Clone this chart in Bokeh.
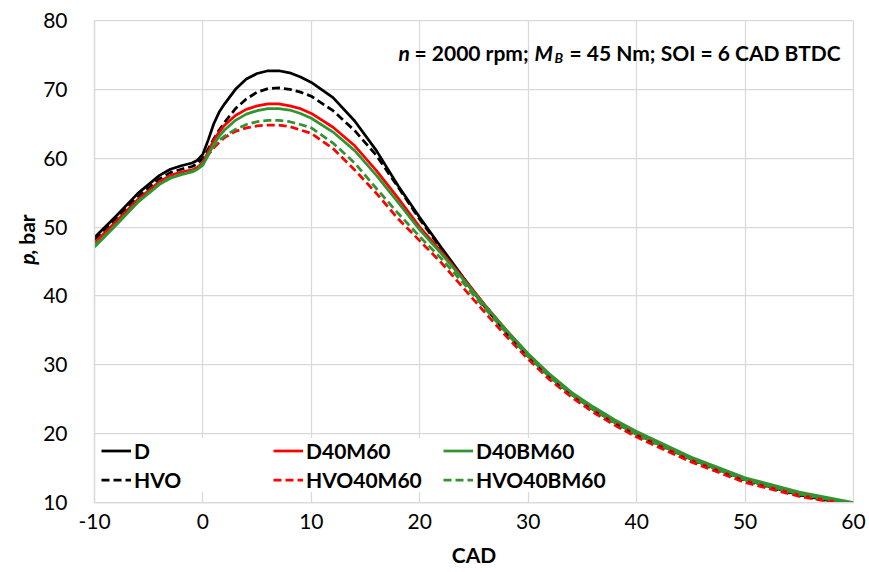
import math
from bokeh.plotting import figure
from bokeh.layouts import row
from bokeh.models import Range1d, FixedTicker, Legend, LegendItem, Label
from bokeh.embed import file_html
from bokeh.resources import INLINE

# ---------------- data ----------------
cad = [-10, -8, -6, -4, -3, -2, -1, -0.5, 0, 0.5, 1, 1.5, 2, 3, 4, 5, 6, 7, 8, 9, 10,
       12, 14, 16, 18, 20, 22, 24, 26, 28, 30, 32, 34, 36, 38, 40, 45, 50, 55, 60]

p_D = [48.5, 51.6, 54.9, 57.5, 58.4, 58.9, 59.3, 59.7, 60.6, 62.7, 65.0, 66.7, 67.9, 70.0, 71.5,
       72.3, 72.7, 72.7, 72.4, 71.8, 71.0, 68.8, 65.4, 61.1, 56.0, 51.4, 47.0, 42.7, 38.6, 34.8,
       31.3, 28.3, 25.7, 23.5, 21.6, 19.9, 16.3, 13.3, 11.1, 9.6]
p_HVO = [48.2, 51.2, 54.4, 57.0, 57.9, 58.4, 58.8, 59.2, 60.0, 61.4, 62.8, 64.1, 65.2, 67.2, 68.6,
         69.6, 70.1, 70.2, 70.0, 69.6, 69.0, 66.9, 64.0, 60.4, 55.8, 51.1, 46.8, 42.5, 38.4, 34.6,
         31.1, 28.1, 25.6, 23.4, 21.5, 19.8, 16.2, 13.2, 11.0, 9.6]
p_D40M60 = [47.7, 50.8, 54.0, 56.6, 57.5, 58.0, 58.3, 58.7, 59.4, 61.0, 62.6, 63.8, 64.8, 66.2, 67.1,
            67.6, 67.9, 67.9, 67.6, 67.2, 66.5, 64.5, 61.8, 58.2, 54.2, 50.0, 46.4, 42.6, 38.7, 35.0,
            31.5, 28.5, 25.9, 23.7, 21.8, 20.1, 16.4, 13.4, 11.3, 9.8]
p_HVO40M60 = [47.5, 50.6, 53.8, 56.4, 57.3, 57.8, 58.2, 58.6, 59.3, 60.5, 61.5, 62.3, 63.0, 63.9, 64.4,
              64.7, 64.8, 64.8, 64.6, 64.1, 63.6, 61.4, 58.3, 54.9, 51.2, 48.0, 44.8, 41.2, 37.6, 34.1,
              30.8, 27.8, 25.3, 23.1, 21.2, 19.5, 15.9, 12.9, 10.9, 9.5]
p_D40BM60 = [47.1, 50.3, 53.6, 56.2, 57.1, 57.6, 58.0, 58.4, 59.0, 60.5, 62.0, 63.2, 64.1, 65.5, 66.4,
             66.9, 67.2, 67.2, 67.0, 66.5, 65.8, 63.8, 61.1, 57.5, 53.6, 49.6, 46.1, 42.4, 38.6, 35.0,
             31.6, 28.6, 26.0, 23.9, 22.0, 20.3, 16.6, 13.6, 11.5, 10.0]
p_HVO40BM60 = [47.3, 50.4, 53.7, 56.3, 57.2, 57.7, 58.1, 58.5, 59.2, 60.6, 61.8, 62.6, 63.2, 64.2, 64.9,
               65.3, 65.5, 65.5, 65.3, 64.9, 64.4, 62.2, 59.3, 55.6, 52.0, 48.6, 45.4, 41.9, 38.2, 34.6,
               31.2, 28.2, 25.7, 23.5, 21.6, 19.9, 16.3, 13.3, 11.2, 9.8]

series_names = ["D", "HVO", "D40M60", "HVO40M60", "D40BM60", "HVO40BM60"]
x_ticks = [-10, 0, 10, 20, 30, 40, 50, 60]
x_tick_labels = ["-10", "0", "10", "20", "30", "40", "50", "60"]
y_ticks = [10, 20, 30, 40, 50, 60, 70, 80]

# ---------------- styling ----------------
FONT = "Lato"
GRID = "#d9d9d9"
BLACK = "#000000"
RED = "#ff0000"
GREEN = "#319431"
LW = 2.75
DASH = "8 4"
LEFT_W = 40

# narrow strip holding the y-axis title (p in italics)
pl = figure(width=LEFT_W, height=572, output_backend="svg", toolbar_location=None,
            x_range=Range1d(0, LEFT_W), y_range=Range1d(0, 572),
            x_axis_location=None, y_axis_location=None, min_border=0)
pl.grid.visible = False
pl.outline_line_color = None
pl.background_fill_color = "white"
pl.border_fill_color = "white"
ylab = dict(text_font=FONT, text_color=BLACK, text_font_size="21px", angle=math.pi / 2,
            text_baseline="middle", text_align="left")
pl.add_layout(Label(x=26, y=572 - 290, text="p", text_font_style="bold italic", **ylab))
pl.add_layout(Label(x=26, y=572 - 278, text=", bar", text_font_style="bold", **ylab))

p = figure(width=869 - LEFT_W, height=572, output_backend="svg", toolbar_location=None,
           x_range=Range1d(-10, 60), y_range=Range1d(10, 80),
           min_border_left=93 - LEFT_W, min_border_right=16, min_border_top=20, min_border_bottom=70)
p.background_fill_color = "white"
p.border_fill_color = "white"
p.outline_line_color = GRID
p.outline_line_width = 1.25

p.xaxis.ticker = FixedTicker(ticks=x_ticks)
p.xaxis.major_label_overrides = {t: s for t, s in zip(x_ticks, x_tick_labels)}
p.yaxis.ticker = FixedTicker(ticks=y_ticks)
for ax in (p.xaxis, p.yaxis):
    ax.axis_line_color = GRID
    ax.axis_line_width = 1.25
    ax.major_tick_line_color = None
    ax.minor_tick_line_color = None
    ax.major_label_text_font = FONT
    ax.major_label_text_font_size = "21px"
    ax.major_label_text_color = BLACK
p.xaxis.major_label_standoff = 5
p.yaxis.major_label_standoff = 21
p.xaxis.axis_label = "CAD"
p.xaxis.axis_label_text_font = FONT
p.xaxis.axis_label_text_font_size = "21px"
p.xaxis.axis_label_text_font_style = "bold"
p.xaxis.axis_label_text_color = BLACK
p.xaxis.axis_label_standoff = 10

p.grid.grid_line_color = GRID
p.grid.grid_line_width = 1.25

r_D = p.line(cad, p_D, line_color=BLACK, line_width=LW)
r_HVO = p.line(cad, p_HVO, line_color=BLACK, line_width=LW, line_dash=DASH)
r_D40M60 = p.line(cad, p_D40M60, line_color=RED, line_width=LW)
r_HVO40M60 = p.line(cad, p_HVO40M60, line_color=RED, line_width=LW, line_dash=DASH)
r_D40BM60 = p.line(cad, p_D40BM60, line_color=GREEN, line_width=LW)
r_HVO40BM60 = p.line(cad, p_HVO40BM60, line_color=GREEN, line_width=LW, line_dash=DASH)


def make_legend(items, x, lw):
    lg = Legend(items=items, location=(x, 10), orientation="vertical",
                glyph_width=30, glyph_height=25, label_height=25, label_width=lw,
                label_standoff=3, spacing=4, padding=5, margin=0,
                border_line_color=None, background_fill_color="white", background_fill_alpha=1.0,
                label_text_font=FONT, label_text_font_size="21px", label_text_font_style="bold",
                label_text_color=BLACK)
    p.add_layout(lg)


make_legend([LegendItem(label=series_names[0], renderers=[r_D]),
             LegendItem(label=series_names[1], renderers=[r_HVO])], 7, 129)
make_legend([LegendItem(label=series_names[2], renderers=[r_D40M60]),
             LegendItem(label=series_names[3], renderers=[r_HVO40M60])], 179, 127)
make_legend([LegendItem(label=series_names[4], renderers=[r_D40BM60]),
             LegendItem(label=series_names[5], renderers=[r_HVO40BM60])], 349, 157)

# title annotation inside plot (screen units, frame-relative)
ty = 502 - 52
common = dict(x_units="screen", y_units="screen", text_font=FONT, text_color=BLACK,
              text_baseline="alphabetic")
p.add_layout(Label(x=397 - 93, y=ty, text="n", text_font_size="21px",
                   text_font_style="bold italic", **common))
p.add_layout(Label(x=413 - 93, y=ty, text="= 2000 rpm;", text_font_size="21px",
                   text_font_style="bold", **common))
p.add_layout(Label(x=533 - 93, y=ty, text="M", text_font_size="21px",
                   text_font_style="bold italic", **common))
p.add_layout(Label(x=553 - 93, y=ty - 5, text="B", text_font_size="14px",
                   text_font_style="bold italic", **common))
p.add_layout(Label(x=568 - 93, y=ty, text="= 45 Nm; SOI = 6 CAD BTDC", text_font_size="21px",
                   text_font_style="bold", **common))

layout = row(pl, p)
open("out.html", "w").write(file_html(layout, INLINE))
